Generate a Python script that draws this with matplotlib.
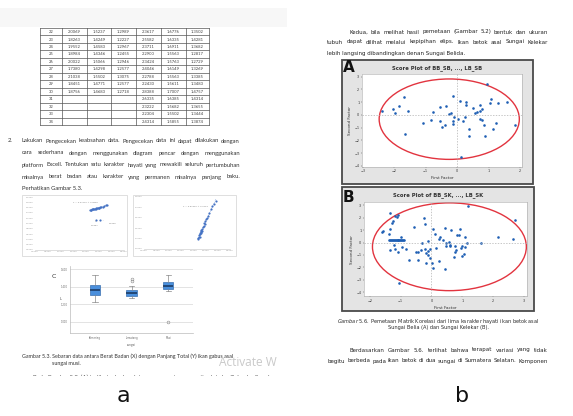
import matplotlib
matplotlib.use("Agg")
import matplotlib.pyplot as plt
import numpy as np
from matplotlib.patches import Ellipse, Rectangle

W, H = 573, 416

# ---------------- data ----------------
# table (rows 22..34)
tab_no = ["22", "23", "24", "25", "26", "27", "28", "29", "30", "31", "32", "33", "34"]
col1 = ["2.0069", "1.8263", "1.9552", "1.8984", "2.0022", "1.7380", "2.1038", "1.8451", "1.8756", "", "", "", ""]
col2 = ["1.5237", "1.4249", "1.4583", "1.4346", "1.5066", "1.4298", "1.5502", "1.4771", "1.4683", "", "", "", ""]
col3 = ["1.2989", "1.2227", "1.2967", "1.2455", "1.2946", "1.2577", "1.3075", "1.2577", "1.2718", "", "", "", ""]
col4 = ["2.3617", "2.5582", "2.3711", "2.2900", "2.3424", "2.4046", "2.2788", "2.2430", "2.8388", "2.6335", "2.3222", "2.2304", "2.4314"]
col5 = ["1.6776", "1.6335", "1.6911", "1.5563", "1.5763", "1.6149", "1.5563", "1.5611", "1.7007", "1.6385", "1.5682", "1.5502", "1.5855"]
col6 = ["1.3502", "1.4281", "1.3682", "1.2817", "1.2729", "1.3269", "1.3385", "1.3483", "1.4757", "1.4314", "1.3655", "1.3444", "1.3874"]

# excel scatter A
a_x = [2.15, 2.19, 2.22, 2.25, 2.28, 2.30, 2.33, 2.36, 2.38, 2.41, 2.44, 2.47, 2.50, 2.53, 2.57, 2.61, 2.66, 2.72, 2.78, 2.84]
a_y = [1.51, 1.52, 1.52, 1.53, 1.54, 1.54, 1.55, 1.56, 1.56, 1.57, 1.58, 1.59, 1.60, 1.60, 1.62, 1.63, 1.64, 1.66, 1.68, 1.70]
a_out_x = [2.39, 2.57]
a_out_y = [1.13, 1.15]
a_out_lbl = ["1.0867", "1.1546"]
# excel scatter B
b_x = [2.19, 2.21, 2.23, 2.24, 2.26, 2.27, 2.29, 2.30, 2.31, 2.33, 2.34, 2.36, 2.38, 2.40, 2.43,
       2.46, 2.48, 2.50, 2.53, 2.56, 2.60, 2.66, 2.72, 2.78, 2.86, 2.93]
b_y = [1.40, 1.41, 1.42, 1.43, 1.42, 1.44, 1.45, 1.46, 1.45, 1.47, 1.48, 1.47, 1.49, 1.51, 1.52,
       1.55, 1.54, 1.57, 1.59, 1.60, 1.62, 1.65, 1.68, 1.71, 1.73, 1.76]

# boxplot C
box_lbl = ["Komering", "Lematang", "Musi"]
box_lo = [1.227, 1.273, 1.352]
box_q1 = [1.307, 1.295, 1.375]
box_med = [1.364, 1.330, 1.409]
box_q3 = [1.420, 1.364, 1.455]
box_hi = [1.534, 1.409, 1.534]
box_fl = [[], [1.466, 1.490], [1.0]]

# score plot A (Sungai Belida)
sa_x = [-2.40, -2.05, -1.96, -1.86, -1.70, -1.56, -1.67, -1.08, -0.76, -0.82, -0.53, -0.53, -0.36, -0.47,
        -0.40, -0.26, -0.13, -0.18, -0.09, -0.12, -0.13, 0.02, 0.10, 0.18, 0.24, 0.29, 0.29, 0.39, 0.39,
        0.50, 0.57, 0.62, 0.72, 0.72, 0.80, 0.73, 0.80, 0.86, 0.88, 0.94, 1.04, 1.08, 1.14, 1.25, 1.30,
        1.57, 1.83, 0.11]
sa_y = [0.32, 0.45, 0.11, 0.71, 1.37, 0.32, -1.53, -0.61, 0.26, -0.42, -0.45, 0.63, 0.68, -0.97,
        -0.76, 0.08, 1.50, 0.16, -0.16, -0.45, -0.74, -0.29, 1.08, -0.50, -0.16, 1.03, 0.76, -1.10, -1.66,
        0.55, 0.16, 0.24, 0.32, 0.74, 0.45, -0.29, -0.42, -0.76, -1.63, 2.42, 0.92, 1.26, -1.08, -0.61, 0.97,
        1.03, -0.82, -3.32]
# score plot B (Sungai Kelekar)
sb_x = [-1.62, -1.56, -1.39, -1.36, -1.34, -1.29, -1.26, -1.18, -1.13, -1.07, -1.22, -1.33, -1.18, -1.08,
        -0.97, -0.84, -0.98, -0.73, -0.57, -0.50, -0.45, -0.43, -0.33, -0.31, -0.25, -0.20, -0.20, -0.17,
        -0.16, -0.11, -0.10, -0.12, -0.05, -0.03, 0.01, 0.05, 0.05, 0.13, 0.16, 0.24, 0.27, 0.24, 0.37,
        0.45, 0.45, 0.47, 0.49, 0.56, 0.60, 0.63, 0.62, 0.73, 0.76, 0.77, 0.79, 0.84, 0.90, 0.92, 0.97,
        0.98, 0.99, 1.05, 1.08, 1.10, 1.16, 1.19, 1.60, 2.18, 2.65, 2.71, -1.06,
        -1.37, -1.34, -1.31, -1.28, -1.25, -1.22, -1.19, -1.16, -1.13, -1.10, -1.07, -1.04, -1.01, -0.98,
        -0.95, -0.92, -0.90]
sb_y = [0.86, 0.94, 0.65, 1.10, 2.41, 1.61, 1.74, 2.14, 2.06, 2.22, -0.16, -0.64, -0.50, -0.80,
        -0.34, -0.48, 0.46, -1.44, 1.21, -0.74, -0.74, -1.41, -0.64, -0.07, 2.01, 1.50, -0.56, -0.88,
        -1.65, 0.11, -1.01, -0.69, -0.48, -1.25, -1.63, -2.03, 1.05, 0.70, -0.40, 0.27, 0.43, -1.52, 0.17,
        1.13, -2.11, -0.02, -0.26, 0.01, -0.21, 0.97, -0.29, -1.14, -0.29, -0.77, -0.61, 0.59, 0.59, 1.05,
        -0.40, -1.12, -0.26, -0.96, 0.46, -0.37, -0.07, 2.92, -0.07, 0.43, 0.25, 1.80, -3.23,
        0.19, 0.20, 0.19, 0.18, 0.19, 0.20, 0.19, 0.19, 0.18, 0.19, 0.20, 0.19, 0.19, 0.18,
        0.19, 0.19, 0.19]

# ---------------- figure ----------------
fig = plt.figure(figsize=(W / 100, H / 100), dpi=100)
bg = fig.add_axes([0, 0, 1, 1])
bg.set_xlim(0, W)
bg.set_ylim(H, 0)
bg.axis("off")
rend = fig.canvas.get_renderer()


def px_axes(x0, y0, x1, y1):
    return fig.add_axes([x0 / W, 1 - y1 / H, (x1 - x0) / W, (y1 - y0) / H])


def justify(line, x0, x1, y, fontsize, **kw):
    # spread words over [x0, x1]; shrink the font if the words do not fit
    words = line.split()
    arts = [bg.text(x0, y, w, va="center", ha="left", fontsize=fontsize, **kw) for w in words]
    wid = [a.get_window_extent(rend).width for a in arts]
    min_gap = 0.35 * fontsize
    need = sum(wid) + min_gap * (len(words) - 1)
    if need > x1 - x0:
        f = fontsize * (x1 - x0) / need
        for a in arts:
            a.set_fontsize(f)
        wid = [a.get_window_extent(rend).width for a in arts]
    gap = (x1 - x0 - sum(wid)) / max(len(words) - 1, 1)
    x = x0
    for a, w in zip(arts, wid):
        a.set_x(x)
        x += w + gap


LF = dict(family="Lato", color="#333333")
RF = dict(family="DejaVu Sans", color="#222222")

# ===== page a =====
bg.add_patch(Rectangle((0, 8), 287, 19, fc="#f7f7f7", ec="none"))

edges = [40, 62, 87, 111, 136, 161, 186, 209]
top, rh = 28, 7.46
for i in range(len(tab_no) + 1):
    bg.plot([edges[0], edges[-1]], [top + i * rh] * 2, color="#555", lw=0.5)
for e in edges:
    bg.plot([e, e], [top, top + len(tab_no) * rh], color="#555", lw=0.5)
cols = [tab_no, col1, col2, col3, col4, col5, col6]
for j, col in enumerate(cols):
    xc = (edges[j] + edges[j + 1]) / 2
    for i, v in enumerate(col):
        bg.text(xc, top + (i + 0.55) * rh, v, ha="center", va="center", family="Lato", fontsize=3.0, color="#444")

bg.text(8, 141, "2.", va="center", fontsize=4.2, **LF)
justify("Lakukan Pengecekan keabsahan data. Pengecekan data ini dapat dilakukan dengan", 22, 240, 141, 4.25, **LF)
justify("cara sederhana dengan menggunakan diagram pencar dengan menggunakan", 22, 240, 153, 4.25, **LF)
justify("platform Excell. Tentukan satu karakter hayati yang mewakili seluruh pertumbuhan", 22, 240, 165, 4.25, **LF)
justify("misalnya berat badan atau karakter yang permanen misalnya panjang baku.", 22, 240, 177, 4.25, **LF)
bg.text(22, 188, "Perhatikan Gambar 5.3.", va="center", fontsize=4.2, **LF)


def excel_axes(box, area, xlim, ylim, yt):
    bg.add_patch(Rectangle((box[0], box[1]), box[2] - box[0], box[3] - box[1], fc="white", ec="#d9d9d9", lw=0.6))
    ax = px_axes(*area)
    ax.set_xlim(xlim)
    ax.set_ylim(ylim)
    ax.set_xticks(np.arange(0, 3.51, 0.5))
    ax.set_yticks(yt)
    ax.set_xticklabels(["%.4f" % v for v in np.arange(0, 3.51, 0.5)])
    ax.set_yticklabels(["%.4f" % v for v in yt])
    ax.tick_params(labelsize=1.6, length=0, pad=1, colors="#999")
    for k in ["top", "right", "left"]:
        ax.spines[k].set_visible(False)
    ax.spines["bottom"].set_color("#d0d0d0")
    ax.spines["bottom"].set_linewidth(0.5)
    return ax


axa = excel_axes((22, 195, 127, 256), (35, 197, 124, 250), (0, 3.5), (0, 2.0), np.arange(0, 2.01, 0.2))
axa.scatter(a_x, a_y, s=2.5, c="#4472c4", lw=0)
axa.scatter(a_out_x, a_out_y, s=2.5, c="#4472c4", lw=0)
ka, ca = np.polyfit(a_x, a_y, 1)
axa.plot([a_x[0], a_x[-1]], [ka * a_x[0] + ca, ka * a_x[-1] + ca], color="#4472c4", lw=0.4, ls=":")
axa.text(2.0, 1.78, "y = %.4fx + %.4f" % (ka, ca), fontsize=1.6, color="#777", ha="center")
axa.annotate(a_out_lbl[0], (a_out_x[0], a_out_y[0]), (2.2, 0.92), fontsize=1.6, color="#777",
             arrowprops=dict(arrowstyle="-", color="#aaa", lw=0.3))
axa.annotate(a_out_lbl[1], (a_out_x[1], a_out_y[1]), (2.9, 1.0), fontsize=1.6, color="#777",
             arrowprops=dict(arrowstyle="-", color="#aaa", lw=0.3))
bg.text(44, 206, "A", fontsize=5, color="#333", va="center")

axb = excel_axes((133, 195, 236, 256), (144, 197, 230, 249), (0, 3.5), (1.3, 1.8), np.arange(1.3, 1.81, 0.1))
axb.scatter(b_x, b_y, s=2.5, c="#4472c4", lw=0)
kb, cb = np.polyfit(b_x, b_y, 1)
axb.plot([b_x[0], b_x[-1]], [kb * b_x[0] + cb, kb * b_x[-1] + cb], color="#4472c4", lw=0.4, ls=":")
axb.text(2.1, 1.7, "y = %.4fx + %.4f" % (kb, cb), fontsize=1.6, color="#777", ha="center")
bg.text(150, 205, "B", fontsize=5, color="#333", va="center")

# boxplot C
axc = px_axes(70, 266, 193, 333)
stats = []
for i in range(3):
    stats.append(dict(med=box_med[i], q1=box_q1[i], q3=box_q3[i], whislo=box_lo[i], whishi=box_hi[i],
                      fliers=box_fl[i], label=box_lbl[i]))
axc.bxp(stats, positions=[1, 2, 3], widths=0.28, patch_artist=True,
        boxprops=dict(facecolor="#4a8fdc", edgecolor="#3a70b0", lw=0.5),
        medianprops=dict(color="#1c3c66", lw=1.2),
        whiskerprops=dict(color="#888", lw=0.5), capprops=dict(color="#888", lw=0.5),
        flierprops=dict(marker="o", ms=2, mfc="none", mec="#888", mew=0.4))
axc.set_xlim(0.315, 3.68)
axc.set_ylim(0.875, 1.634)
axc.set_yticks([1.0, 1.2, 1.4, 1.6])
axc.set_yticklabels(["1.000", "1.200", "1.400", "1.600"])
axc.yaxis.grid(True, color="#d8d8d8", lw=0.5)
axc.set_axisbelow(True)
axc.tick_params(labelsize=1.8, length=0, pad=2, colors="#666")
for k in ["top", "right"]:
    axc.spines[k].set_visible(False)
for k in ["left", "bottom"]:
    axc.spines[k].set_color("#bbb")
    axc.spines[k].set_linewidth(0.5)
axc.set_xlabel("sungai", fontsize=1.9, labelpad=2, color="#555")
bg.text(52, 277, "C", fontsize=4.5, color="#333", va="center")
bg.text(60, 299, "L", fontsize=2.5, color="#444", va="center")

bg.text(22, 356, "Gambar 5.3. Sebaran data antara Berat Badan (X) dengan Panjang Total (Y) ikan gabus asal",
        va="center", family="Lato", fontsize=3.9, color="#333")
bg.text(52, 364, "sungai musi.", va="center", family="Lato", fontsize=3.9, color="#333")
bg.text(219, 363, "Activate W", va="center", family="Open Sans", fontsize=8.6, color="#c9c9c9")
bg.text(33, 377, "Pada Gambar 5.3. (A) terlihat ada dua data yang menyimpang yaitu data ke-7 dan ke-8 pada",
        va="center", family="Lato", fontsize=4.3, color="#555")
bg.add_patch(Rectangle((20, 376), 270, 10, fc="white", ec="none", zorder=5))

bg.text(123, 396, "a", ha="center", va="center", family="DejaVu Sans", fontsize=16, color="#111")

# ===== page b =====
justify("Kedua, bila melihat hasil pemetaan (Gambar 5.2) bentuk dan ukuran", 349, 548, 32, 4.0, **RF)
justify("tubuh dapat dilihat melalui kepipihan elips. Ikan betok asal Sungai Kelekar", 327, 548, 42, 4.0, **RF)
bg.text(327, 53, "lebih langsing dibandingkan denan Sungai Belida.", va="center", fontsize=4.0, **RF)


def score_panel(box, area, xlim, ylim, xt, yt, px, py, ell, letter, lpos, title, tpos):
    bg.add_patch(Rectangle((box[0], box[1]), box[2] - box[0], box[3] - box[1], fc="#e4e4e4", ec="#4a4a4a", lw=1.3))
    ax = px_axes(*area)
    ax.set_facecolor("white")
    ax.axhline(0, color="#b0b0b0", ls=(0, (2, 2)), lw=0.5)
    ax.axvline(0, color="#b0b0b0", ls=(0, (2, 2)), lw=0.5)
    ax.add_patch(Ellipse((ell[0], ell[1]), ell[2], ell[3], fill=False, ec="#e2343f", lw=1.0))
    ax.scatter(px, py, s=3.5, c="#1f5fb4", lw=0)
    ax.set_xlim(xlim)
    ax.set_ylim(ylim)
    ax.set_xticks(xt)
    ax.set_yticks(yt)
    ax.tick_params(labelsize=2.4, length=1, width=0.3, pad=1, colors="#333")
    for s in ax.spines.values():
        s.set_color("#aaa")
        s.set_linewidth(0.4)
    ax.set_xlabel("First Factor", fontsize=3, labelpad=2, color="#333")
    ax.set_ylabel("Second Factor", fontsize=3, labelpad=1.5, color="#333")
    bg.text(lpos[0], lpos[1], letter, fontsize=11, weight="bold", family="DejaVu Sans", va="center", color="#111")
    bg.text(tpos[0], tpos[1], title, fontsize=3.8, weight="bold", ha="center", va="center", color="#333")


score_panel((342, 60, 533, 184), (362, 74, 522, 166.5), (-3.02, 2.06), (-4.06, 3.21),
            [-3, -2, -1, 0, 1, 2], [-4, -3, -2, -1, 0, 1, 2, 3], sa_x, sa_y,
            (-0.25, -0.34, 4.45, 6.32), "A", (343, 68), "Score Plot of BB_SB, ..., LB_SB", (437, 68))
score_panel((342, 187, 534, 311), (364, 202, 526.5, 296), (-2.19, 3.09), (-4.30, 3.26),
            [-2, -1, 0, 1, 2, 3], [-4, -3, -2, -1, 0, 1, 2, 3], sb_x, sb_y,
            (0.585, -0.34, 5.0, 7.06), "B", (343, 197), "Score Plot of BB_SK, ..., LB_SK", (438, 195))

bg.text(438, 321, r"$\it{Gambar\ 5.6.}$ Pemetaan Matrik Korelasi dari lima karakter hayati ikan betok asal",
        ha="center", va="center", family="DejaVu Sans", fontsize=3.6, color="#2a2a2a")
bg.text(438, 327, "Sungai Belia (A) dan Sungai Kelekar (B).", ha="center", va="center",
        family="DejaVu Sans", fontsize=3.6, color="#2a2a2a")

justify("Berdasarkan Gambar 5.6. terlihat bahwa terapat variasi yang tidak", 350, 548, 350, 4.0, **RF)
justify("begitu berbeda pada ikan betok di dua sungai di Sumatera Selatan. Komponen", 328, 548, 361, 4.0, **RF)

bg.text(462, 396, "b", ha="center", va="center", family="DejaVu Sans", fontsize=16, color="#111")

fig.savefig("out.png", dpi=100)
